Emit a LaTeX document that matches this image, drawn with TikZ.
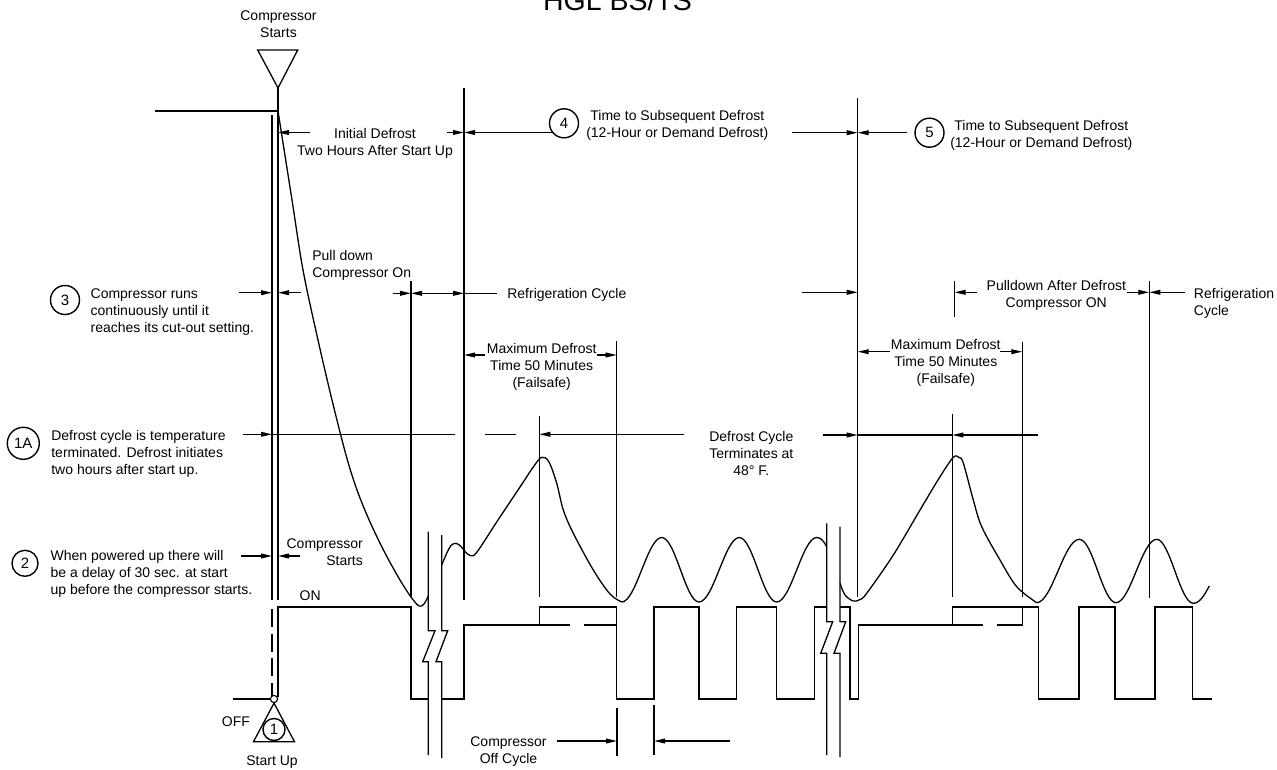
\documentclass[tikz,border=0pt]{standalone}
\usepackage{fontspec}
\setmainfont{Liberation Sans}
\usetikzlibrary{arrows.meta}
\begin{document}
\begin{tikzpicture}[x=1pt,y=-1pt,line width=1.3pt,
  lbl/.style={font=\fontsize{14}{17}\selectfont,inner sep=0pt},
  circ/.style={draw,circle,inner sep=0pt,line width=1.4pt,font=\fontsize{15}{17}\selectfont},
  dimarr/.style={-{Triangle[length=11pt,width=4.8pt]}},
  dimboth/.style={{Triangle[length=11pt,width=4.8pt]}-{Triangle[length=11pt,width=4.8pt]}},
  dashv/.style={dash pattern=on 18pt off 6.5pt}]
\clip (0,0) rectangle (1277,769);
\fill[white] (0,0) rectangle (1277,769);

% ---------- title ----------
\node[font=\fontsize{28.5}{30}\selectfont,anchor=base,inner sep=0pt] (title) at (617.5,10) {HGL BS/TS};

% ---------- compressor starts marker ----------
\node[lbl,align=center,anchor=north] (cstop) at (278.5,10) {Compressor\\Starts};
\draw (257.7,50) -- (297.7,50) -- (278,88) -- cycle;
\coordinate (apex) at (278,88);
\coordinate (corner) at (278,111);
\draw (155,111) -- (corner);
\draw (apex) -- (278,600);
\draw (272,115) -- (272,600);

% ---------- tall vertical reference lines ----------
\draw (411,281) -- (411,597);
\draw (464,88) -- (464,600);
\draw (539.3,416) -- (539.3,597);
\draw (616.7,341) -- (616.7,597);
\draw (857.7,98) -- (857.7,597);
\draw (952.3,414) -- (952.3,597);
\draw (1022.3,342) -- (1022.3,597);
\draw (1149.3,281) -- (1149.3,598);
\draw (954.5,281) -- (954.5,316.7);
\draw (617,708) -- (617,756);
\draw (654,705) -- (654,755);

% ---------- break marks ----------
\draw (428.3,531.7) -- (428.3,630.7) -- (435,630.7) -- (422.7,661.7) -- (428.3,661.7) -- (428.3,755);
\draw (441.7,535) -- (441.7,630.7) -- (447.7,630.7) -- (436,661.7) -- (441.7,661.7) -- (441.7,758);
\draw (826.7,523.3) -- (826.7,621.7) -- (832.7,621.7) -- (820.7,653.3) -- (826.7,653.3) -- (826.7,755);
\draw (840,526.7) -- (840,621.7) -- (845.7,621.7) -- (834,653.3) -- (840,653.3) -- (840,757);

% ---------- compressor signal ----------
\draw (278,696.5) -- (278,607) -- (411,607) -- (411,699) -- (428.3,699);
\draw[dashv] (272,609) -- (272,696);
\node[draw,circle,minimum size=7.2pt,inner sep=0pt,line width=1.1pt] (pc) at (274,699) {};
\draw (233,699) -- (pc.west);
\draw (pc.south) -- (253.5,741.7) -- (294.5,741.7) -- cycle;
\node[circ,minimum size=22pt] (c1) at (274,729.5) {1};

\draw (441.7,699) -- (464,699) -- (464,625) -- (570,625);
\draw (584,625) -- (616.7,625);
\draw (539.3,625) -- (539.3,607) -- (616.7,607) -- (616.7,699) -- (654,699) -- (654,607) -- (699,607) -- (699,699)
  -- (736.7,699) -- (736.7,607) -- (776.7,607) -- (776.7,699) -- (814.3,699) -- (814.3,607) -- (826.7,607);
\draw (840,607) -- (850,607) -- (850,699) -- (858.3,699) -- (858.3,625) -- (982.7,625);
\draw (997.3,625) -- (1022.3,625) -- (1022.3,607);
\draw (952.3,625) -- (952.3,607) -- (1038.3,607) -- (1038.3,699) -- (1079,699) -- (1079,607) -- (1115,607) -- (1115,699)
  -- (1155,699) -- (1155,607) -- (1192.3,607) -- (1192.3,699) -- (1212.3,699);

% ---------- temperature curve ----------
\draw plot[smooth,tension=0.55] coordinates {(278,111) (292,200) (303,270) (318,340) (332,400) (346,455) (357,490) (370,522) (385,553) (400,580) (411,597) (419,606) (424,604) (428.3,596)};
\draw plot[smooth,tension=0.55] coordinates {(441.7,565) (446.7,553.3) (451,545.5) (456,543.3) (461,546.5) (465.5,552) (470.7,555.7) (477,552) (496.7,522) (520,487) (533.3,467) (541.7,457.3) (549,462) (556.7,483.3) (563.3,510) (573.3,533.3) (593.3,570) (610,594) (621.7,602)};
\draw (621.7,602) .. controls (636,602) and (647.5,537.5) .. (661.7,537.5)
  .. controls (675.5,537.5) and (685.5,602) .. (699,602)
  .. controls (713.5,602) and (725,537.5) .. (739.3,537.5)
  .. controls (753,537.5) and (763,602) .. (776.7,602)
  .. controls (791,602) and (802.5,537.5) .. (816.7,537.5)
  .. controls (821,537.5) and (824,541.5) .. (826.7,546.7);
\draw plot[smooth,tension=0.55] coordinates {(840,583.3) (845,595) (853.3,601) (860,599.5) (866.7,593.3) (893.3,555) (920,510) (940,476.7) (953.3,457.3) (959,457.5) (963.3,463) (973.3,500) (981.7,526.7) (1000,560) (1016.7,586.7) (1036.7,602.7)};
\draw (1036.7,602.7) .. controls (1052,602.7) and (1064,539.3) .. (1079.3,539.3)
  .. controls (1093,539.3) and (1102.5,602.7) .. (1116,602.7)
  .. controls (1130.5,602.7) and (1142,539.3) .. (1156.7,539.3)
  .. controls (1170,539.3) and (1180,603.3) .. (1193.3,603.3)
  .. controls (1200,603.3) and (1205,594) .. (1209.3,586);

% ---------- row: initial defrost / 4 / 5 ----------
\draw[dimarr] (310,132.5) -- (278,132.5);
\node[lbl,align=center,anchor=north] (initd) at (375,127.5) {Initial Defrost\\Two Hours After Start Up};
\draw[dimarr] (446.7,132.5) -- (464,132.5);
\node[circ,minimum size=29pt] (c4) at (564,123.3) {4};
\path (c4.center) ++(-11.5,9.2) coordinate (c4l);
\draw[dimarr] (c4l) -- (464,132.5);
\node[lbl,align=center,anchor=north] (t4) at (677.3,109.3) {Time to Subsequent Defrost\\(12-Hour or Demand Defrost)};
\draw[dimarr] (791.7,132.7) -- (857.7,132.7);
\draw[dimarr] (906.7,132.7) -- (857.7,132.7);
\node[circ,minimum size=29pt] (c5) at (929.5,132.7) {5};
\node[lbl,align=center,anchor=north] (t5) at (1041.3,120) {Time to Subsequent Defrost\\(12-Hour or Demand Defrost)};

% ---------- row: 3 / refrigeration ----------
\node[circ,minimum size=29pt] (c3) at (65,300) {3};
\node[lbl,align=left,anchor=north west] (t3) at (90,288.3) {Compressor runs\\continuously until it\\reaches its cut-out setting.};
\draw[dimarr] (239,292.7) -- (272,292.7);
\draw[dimarr] (301,292.7) -- (278,292.7);
\node[lbl,align=left,anchor=north west] (pd) at (311.7,250) {Pull down\\Compressor On};
\draw[dimarr] (392.7,293.3) -- (411,293.3);
\draw[dimboth] (411,293.3) -- (464,293.3);
\draw (464,293.3) -- (496.7,293.3);
\node[lbl,anchor=base west] (rc1) at (506.7,298.3) {Refrigeration Cycle};
\draw[dimarr] (801.7,292.3) -- (857.7,292.3);
\draw[dimarr] (976.7,292.3) -- (954.5,292.3);
\node[lbl,align=center,anchor=north] (pad) at (1056.3,279.3) {Pulldown After Defrost\\Compressor ON};
\draw[dimarr] (1126.7,292.3) -- (1149.3,292.3);
\draw[dimarr] (1185,292.3) -- (1149.3,292.3);
\node[lbl,align=left,anchor=north west] (rc2) at (1193.3,287.7) {Refrigeration\\Cycle};

% ---------- row: maximum defrost ----------
\draw[dimarr] (485,355) -- (464,355);
\draw[dimarr] (596.7,355) -- (616.7,355);
\node[lbl,align=center,anchor=north] (md1) at (541.7,342.5) {Maximum Defrost\\Time 50 Minutes\\(Failsafe)};
\draw[dimarr] (890,351.7) -- (857.7,351.7);
\draw[dimarr] (1000,351.7) -- (1022.3,351.7);
\node[lbl,align=center,anchor=north] (md2) at (945.8,338.5) {Maximum Defrost\\Time 50 Minutes\\(Failsafe)};

% ---------- row: 1A / defrost cycle ----------
\node[circ,minimum size=32pt] (c1a) at (23.3,443.3) {1A};
\node[lbl,align=left,anchor=north west] (t1a) at (50.7,430) {Defrost cycle is temperature\\terminated. Defrost initiates\\two hours after start up.};
\draw[dimarr] (242.7,434.3) -- (272,434.3);
\draw (272,434.3) -- (455,434.3);
\draw (485,434.3) -- (516,434.3);
\draw[dimarr] (684,434.3) -- (539.3,434.3);
\node[lbl,align=center,anchor=north] (dc) at (751.3,431) {Defrost Cycle\\Terminates at\\48° F.};
\draw[dimarr] (822.7,435) -- (857.7,435);
\draw (857.7,435) -- (952.3,435);
\draw[dimarr] (1037.7,435) -- (952.3,435);

% ---------- row: 2 / compressor starts ----------
\node[circ,minimum size=26pt] (c2) at (25,563.3) {2};
\node[lbl,align=left,anchor=north west] (t2) at (50,550) {When powered up there will\\be a delay of 30 sec. at start\\up before the compressor starts.};
\draw[dimarr] (241,556) -- (272,556);
\draw[dimarr] (300,556) -- (278,556);
\node[lbl,align=right,anchor=north east] (cs2) at (363.5,538.3) {Compressor\\Starts};
\node[lbl,anchor=base west] (on) at (299,600) {ON};
\node[lbl,anchor=base east] (off) at (250.5,726.7) {OFF};
\node[lbl,anchor=base] (su) at (272,765) {Start Up};

% ---------- compressor off cycle ----------
\node[lbl,align=center,anchor=north] (coc) at (508.5,736) {Compressor\\Off Cycle};
\draw[dimarr] (557,741) -- (617,741);
\draw[dimarr] (730,741) -- (654,741);
\end{tikzpicture}
\end{document}
